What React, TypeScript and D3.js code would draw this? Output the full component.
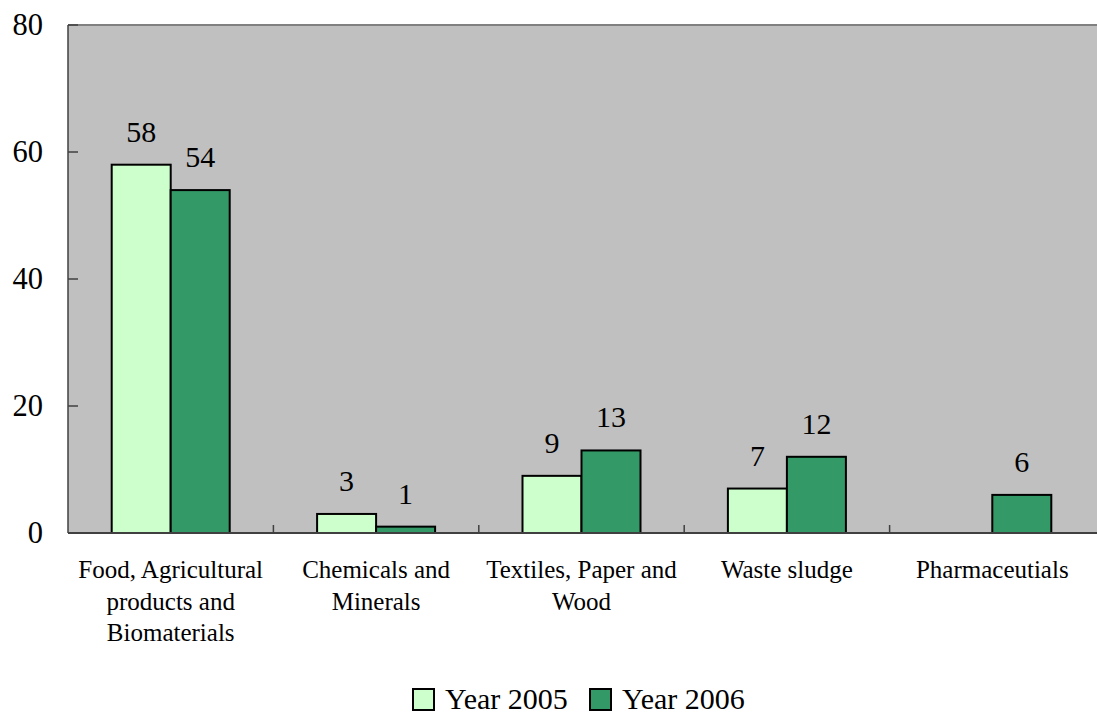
import React from "react";
import * as d3 from "d3";

const categories = [
  ["Food, Agricultural", "products and", "Biomaterials"],
  ["Chemicals and", "Minerals"],
  ["Textiles, Paper and", "Wood"],
  ["Waste sludge"],
  ["Pharmaceutials"],
];
const series = ["Year 2005", "Year 2006"];
const year2005: (number | null)[] = [58, 3, 9, 7, null];
const year2006: (number | null)[] = [54, 1, 13, 12, 6];
const yTicks = [0, 20, 40, 60, 80];

const colors = ["#CCFFCC", "#339966"];
const font = "'Liberation Serif', 'Times New Roman', serif";

const width = 1097;
const height = 717;
const left = 68;
const right = 1095;
const top = 25;
const bottom = 533;

const App = () => {
  const x = d3
    .scaleBand<number>()
    .domain(categories.map((_, i) => i))
    .range([left, right]);

  const groupWidth = 118;
  const x1 = d3
    .scaleBand<number>()
    .domain([0, 1])
    .range([0, groupWidth]);

  const y = d3.scaleLinear().domain([0, 80]).range([bottom, top]);

  const values = [year2005, year2006];

  return (
    <svg width={width} height={height} style={{ position: "absolute", left: 0, top: 0 }}>
      <rect x={0} y={0} width={width} height={height} fill="#fff" />
      <rect x={left} y={top} width={width - left} height={bottom - top} fill="#C0C0C0" />
      <line x1={left} x2={width} y1={top} y2={top} stroke="#808080" strokeWidth={2} />

      {/* y axis */}
      <line x1={left} x2={left} y1={top} y2={bottom} stroke="#404040" strokeWidth={1.5} />
      {yTicks.map(t => (
        <g key={'y' + t}>
          <line x1={left} x2={left + 10} y1={y(t)} y2={y(t)} stroke="#404040" strokeWidth={1.5} />
          <text
            x={43}
            y={y(t) + 10}
            textAnchor="end"
            fontFamily={font}
            fontSize={30.5}
            fill="#000"
          >
            {t}
          </text>
        </g>
      ))}

      {/* bars */}
      {categories.map((c, i) => {
        const gx = x(i)! + x.bandwidth() / 2 - groupWidth / 2;
        return (
          <g key={'c' + i}>
            {values.map((s, j) => {
              const v = s[i];
              if (v == null) return null;
              const bx = gx + x1(j)!;
              return (
                <g key={'b' + j}>
                  <rect
                    x={bx}
                    y={y(v)}
                    width={x1.bandwidth()}
                    height={bottom - y(v)}
                    fill={colors[j]}
                    stroke="#000"
                    strokeWidth={2}
                  />
                  <text
                    x={bx + x1.bandwidth() / 2}
                    y={y(v) - 23}
                    textAnchor="middle"
                    fontFamily={font}
                    fontSize={30}
                    fill="#000"
                  >
                    {v}
                  </text>
                </g>
              );
            })}
          </g>
        );
      })}

      {/* x axis */}
      <line x1={left} x2={width} y1={bottom} y2={bottom} stroke="#404040" strokeWidth={2} />
      {categories.map((_, i) => (
        i > 0 ? (
          <line key={'t' + i} x1={x(i)} x2={x(i)} y1={bottom} y2={bottom - 8} stroke="#404040" strokeWidth={1.5} />
        ) : null
      ))}
      {categories.map((c, i) => (
        <text
          key={'l' + i}
          textAnchor="middle"
          fontFamily={font}
          fontSize={25}
          fill="#000"
        >
          {c.map((line, k) => (
            <tspan key={k} x={x(i)! + x.bandwidth() / 2} y={578 + k * 31.5}>{line}</tspan>
          ))}
        </text>
      ))}

      {/* legend */}
      {series.map((s, j) => {
        const lx = j === 0 ? 413 : 590;
        return (
          <g key={'leg' + j}>
            <rect x={lx} y={689} width={21} height={21} fill={colors[j]} stroke="#000" strokeWidth={2} />
            <text x={lx + 32} y={709} fontFamily={font} fontSize={30} fill="#000">{s}</text>
          </g>
        );
      })}
    </svg>
  );
};

export default App;
